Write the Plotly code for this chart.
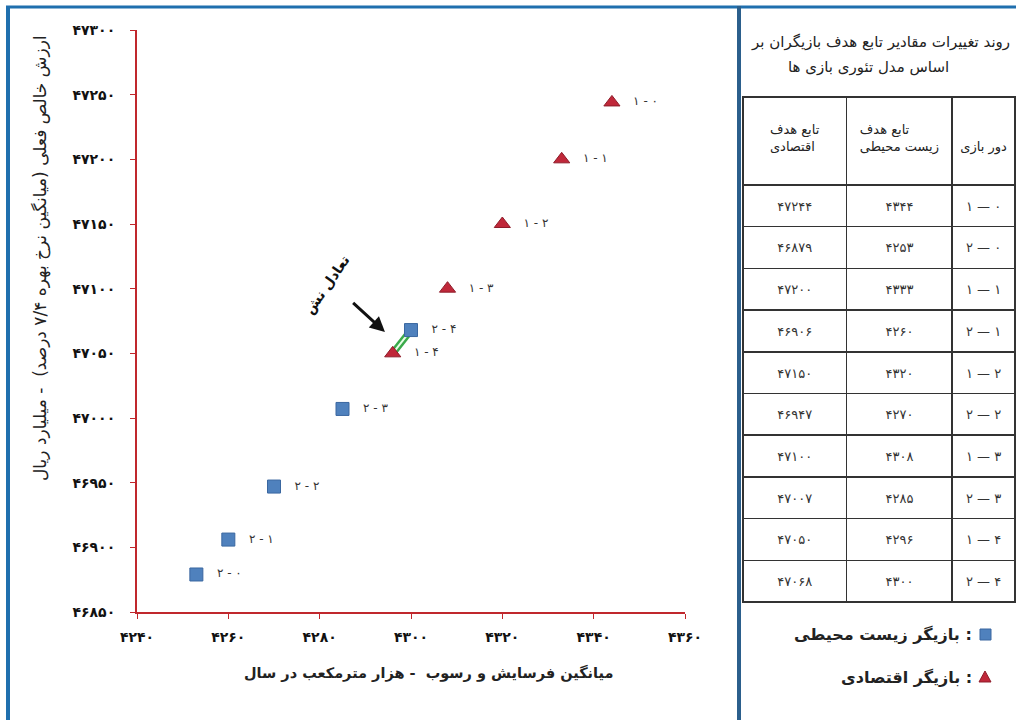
import plotly.graph_objects as go

# ---------------- data ----------------
rounds = [0, 1, 2, 3, 4]
econ_x = [4344, 4333, 4320, 4308, 4296]        # economic player (1)
econ_y = [47244, 47200, 47150, 47100, 47050]
env_x = [4253, 4260, 4270, 4285, 4300]          # environmental player (2)
env_y = [46879, 46906, 46947, 47007, 47068]

x_ticks = [4240, 4260, 4280, 4300, 4320, 4340, 4360]
y_ticks = [46850, 46900, 46950, 47000, 47050, 47100, 47150, 47200, 47250, 47300]

FA = str.maketrans("0123456789", "۰۱۲۳۴۵۶۷۸۹")
def fa(v):
    return str(v).translate(FA)

W, H = 1016, 720
def px(x):
    return x / W
def py(y):
    return 1 - y / H

FONT = "DejaVu Sans"
RED = "#c0283a"
BLUE = "#4f81bd"
NB = "\u00a0"
CLEAR = "rgba(0,0,0,0)"

fig = go.Figure()

# equilibrium link (double green line)
fig.add_trace(go.Scatter(x=[econ_x[-1], env_x[-1]], y=[econ_y[-1], env_y[-1]], mode="lines",
                         line=dict(color="#3aaa4a", width=7), hoverinfo="skip", showlegend=False))
fig.add_trace(go.Scatter(x=[econ_x[-1], env_x[-1]], y=[econ_y[-1], env_y[-1]], mode="lines",
                         line=dict(color="#e8ffe8", width=2), hoverinfo="skip", showlegend=False))

fig.add_trace(go.Scatter(
    x=econ_x, y=econ_y, mode="markers+text",
    marker=dict(symbol="triangle-up", size=14, color=RED, line=dict(color="#8e1c2a", width=1)),
    text=["   " + fa(1) + " - " + fa(r) for r in rounds], textposition="middle right",
    textfont=dict(family=FONT, size=12, color="#333"), showlegend=False, cliponaxis=False))
fig.add_trace(go.Scatter(
    x=env_x, y=env_y, mode="markers+text",
    marker=dict(symbol="square", size=13, color=BLUE, line=dict(color="#3a67a0", width=1)),
    text=["   " + fa(2) + " - " + fa(r) for r in rounds], textposition="middle right",
    textfont=dict(family=FONT, size=12, color="#333"), showlegend=False, cliponaxis=False))

# ---------------- table ----------------
col_econ, col_env, col_round = [], [], []
for i, r in enumerate(rounds):
    col_econ += [fa(econ_y[i]), fa(env_y[i])]
    col_env += [fa(econ_x[i]), fa(env_x[i])]
    col_round += [fa(1) + " — " + fa(r), fa(2) + " — " + fa(r)]

header_vals = [NB + "<br>تابع هدف<br>اقتصادی", NB + "<br>تابع هدف<br>زیست محیطی",
               NB + "<br>" + NB + "<br>دور بازی"]
col_w = [104, 106, 63]
n_rows = len(col_econ)
blank_cols = [[""] * n_rows for _ in range(3)]

# grid + header text
fig.add_trace(go.Table(
    domain=dict(x=[px(743), 1.0], y=[0.0, py(97)]),
    columnwidth=col_w,
    header=dict(values=header_vals, height=88, align="center", fill_color="white",
                line=dict(color="#333", width=1.5),
                font=dict(family=FONT, size=13, color="#222")),
    cells=dict(values=blank_cols, height=41.7, align="center",
               fill_color="white", line=dict(color="#333", width=1.5),
               font=dict(family=FONT, size=13, color="#333"))))
# cell text, nudged down to sit mid-row
fig.add_trace(go.Table(
    domain=dict(x=[px(743), 1.0], y=[0.0, py(105)]),
    columnwidth=col_w,
    header=dict(values=["", "", ""], height=88, align="center", fill_color=CLEAR,
                line=dict(color=CLEAR, width=0),
                font=dict(family=FONT, size=13, color=CLEAR)),
    cells=dict(values=[col_econ, col_env, col_round], height=41.7, align="center",
               fill_color=CLEAR, line=dict(color=CLEAR, width=0),
               font=dict(family=FONT, size=13, color="#333"))))

shapes = [
    # panel frames
    dict(type="line", xref="paper", yref="paper", x0=px(8), x1=px(8), y0=py(6), y1=0,
         line=dict(color="#1f6fae", width=4)),
    dict(type="line", xref="paper", yref="paper", x0=px(6), x1=1, y0=py(7), y1=py(7),
         line=dict(color="#1f6fae", width=3)),
    dict(type="line", xref="paper", yref="paper", x0=px(739), x1=px(739), y0=py(6), y1=0,
         line=dict(color="#2b5f8c", width=4)),
    # legend symbols
    dict(type="rect", xref="paper", yref="paper", x0=px(980), x1=px(991), y0=py(640), y1=py(629),
         fillcolor=BLUE, line=dict(color="#3a67a0", width=1)),
    dict(type="path", xref="paper", yref="paper",
         path="M %f %f L %f %f L %f %f Z" % (px(979), py(682), px(991), py(682), px(985), py(671)),
         fillcolor=RED, line=dict(color="#8e1c2a", width=1)),
]

annotations = [
    dict(xref="paper", yref="paper", x=px(40), y=py(258), xanchor="center", yanchor="middle",
         text="ارزش خالص فعلی (میانگین نرخ بهره ۷/۴ درصد)  - میلیارد ریال",
         textangle=-90, showarrow=False, font=dict(family=FONT, size=17, color="#222")),
    dict(xref="paper", yref="paper", x=px(428), y=py(673), xanchor="center", yanchor="middle",
         text="<b>میانگین فرسایش و رسوب  - هزار مترمکعب در سال</b>",
         showarrow=False, font=dict(family=FONT, size=14.5, color="#222")),
    dict(x=4294.3, y=47066.5, ax=4287.0, ay=47090.0, xref="x", yref="y", axref="x", ayref="y",
         text="", showarrow=True, arrowhead=2, arrowsize=1, arrowwidth=3, arrowcolor="#111"),
    dict(x=4281.5, y=47103, xref="x", yref="y", xanchor="center", yanchor="middle",
         text="<b>تعادل نش</b>", textangle=-55,
         showarrow=False, font=dict(family=FONT, size=14, color="#111")),
    dict(xref="paper", yref="paper", x=px(880), y=py(42), xanchor="center", yanchor="middle",
         text="روند تغییرات مقادیر تابع هدف بازیگران بر",
         showarrow=False, font=dict(family=FONT, size=15, color="#222")),
    dict(xref="paper", yref="paper", x=px(868), y=py(67), xanchor="center", yanchor="middle",
         text="اساس مدل تئوری بازی ها",
         showarrow=False, font=dict(family=FONT, size=15, color="#222")),
    dict(xref="paper", yref="paper", x=px(974), y=py(634), xanchor="right", yanchor="middle",
         text="<b>بازیگر زیست محیطی :</b>",
         showarrow=False, font=dict(family=FONT, size=16, color="#222")),
    dict(xref="paper", yref="paper", x=px(974), y=py(677), xanchor="right", yanchor="middle",
         text="<b>بازیگر اقتصادی :</b>",
         showarrow=False, font=dict(family=FONT, size=16, color="#222")),
]

fig.update_layout(
    width=W, height=H, margin=dict(l=0, r=0, t=0, b=0, autoexpand=False),
    paper_bgcolor="white", plot_bgcolor="white", showlegend=False,
    shapes=shapes, annotations=annotations,
    xaxis=dict(domain=[px(137), px(685)], range=[4240, 4360], showgrid=False, zeroline=False,
               automargin=False,
               showline=True, linecolor="#c0282d", linewidth=2, ticks="outside", ticklen=5,
               tickcolor="#c0282d", tickvals=x_ticks, ticktext=[fa(v) for v in x_ticks],
               tickfont=dict(family=FONT, size=14, color="#111", weight="bold"),
               ticklabelstandoff=6),
    yaxis=dict(domain=[py(612), py(30)], range=[46850, 47300], showgrid=False, zeroline=False,
               automargin=False,
               showline=True, linecolor="#c0282d", linewidth=2, ticks="outside", ticklen=5,
               tickcolor="#c0282d", tickvals=y_ticks, ticktext=[fa(v) for v in y_ticks],
               tickfont=dict(family=FONT, size=14, color="#111", weight="bold"),
               ticklabelstandoff=12),
)

fig.write_html("out.html", config={"displayModeBar": False},
               post_script="document.body.style.margin='0px';document.body.style.overflow='hidden';")
